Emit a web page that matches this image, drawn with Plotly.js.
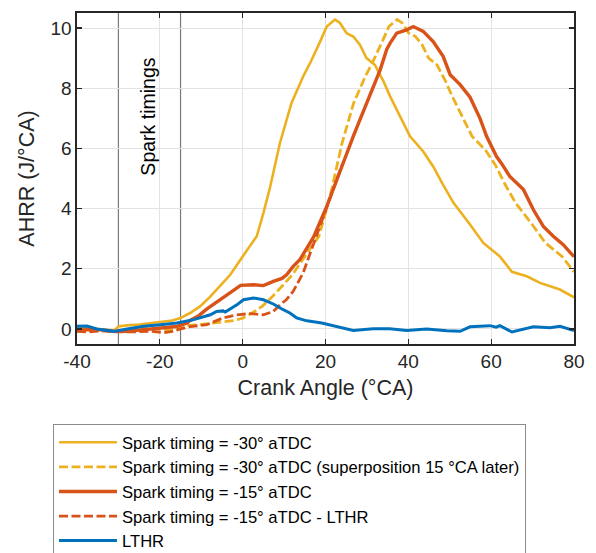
<!DOCTYPE html>
<html>
<head>
<meta charset="utf-8">
<script src="https://cdn.plot.ly/plotly-3.0.1.min.js"></script>
<style>html,body{margin:0;padding:0;background:#fff;}</style>
</head>
<body>
<div id="chart" style="width:596px;height:553px;"></div>
<script>
// Spark timing = -30° aTDC
const y30X = [-40,-37,-34,-31,-30,-28,-25,-22,-20,-17,-15,-12.7,-10.3,-8,-5.5,-3,0,3.4,5,6.6,9,11.8,14.6,16.3,18.7,20.3,22.3,23.5,25.1,26.7,28.3,29.9,31.9,34,35.6,38,40.4,43.6,46,48.4,50.9,54.9,58.1,62.1,65,68.6,71.8,76.6,80];
const y30Y = [0.06,0.03,0,-0.05,0.08,0.12,0.15,0.2,0.22,0.28,0.36,0.53,0.75,1.05,1.42,1.8,2.41,3.08,3.85,4.7,6.18,7.51,8.39,8.84,9.55,10.05,10.28,10.17,9.83,9.72,9.45,9.0,8.78,8.23,7.73,7.06,6.4,5.9,5.4,4.79,4.19,3.47,2.86,2.41,1.9,1.75,1.53,1.31,1.05];
// Spark timing = -30° aTDC (superposition 15 °CA later)
const y30sX = [-25,-22,-19,-16,-15,-13,-10,-7,-5,-2,0,2.3,4.7,7,9.5,12,15,18.4,20,21.6,24,26.8,29.6,31.3,33.7,35.3,37.3,38.5,40.1,41.7,43.3,44.9,46.9,49,50.6,53,55.4,58.6,61,63.4,65.9,69.9,73.1,77.1,80];
const y30sY = [0.06,0.03,0,-0.05,0.08,0.12,0.15,0.2,0.22,0.28,0.36,0.53,0.75,1.05,1.42,1.8,2.41,3.08,3.85,4.7,6.18,7.51,8.39,8.84,9.55,10.05,10.28,10.17,9.83,9.72,9.45,9.0,8.78,8.23,7.73,7.06,6.4,5.95,5.45,4.79,4.19,3.47,2.86,2.41,1.9];
// Spark timing = -15° aTDC
const y15X = [-40,-37,-34,-31,-28,-25,-22,-19,-16,-13.4,-12.7,-10.5,-8.7,-5.5,-3.1,-0.5,2.6,5,7.4,9.5,10.6,12.2,13.8,15.5,17.1,20.3,22.7,25.1,26.7,28.3,29.9,31.5,33.2,34.8,35.6,37.2,39.6,41.2,43.6,46,48.4,50.1,52.5,54.9,57.3,58.9,61.3,62.5,64.5,67.8,70.2,72.6,75,77.4,80];
const y15Y = [-0.05,-0.02,-0.03,-0.08,-0.08,-0.04,0,0.03,0.08,0.2,0.28,0.45,0.66,0.97,1.2,1.45,1.47,1.44,1.58,1.68,1.8,2.08,2.3,2.7,3.05,4.07,4.96,5.85,6.4,6.95,7.51,8.06,8.61,9.3,9.5,9.83,9.94,10.05,9.89,9.55,9.06,8.45,8.12,7.7,7.0,6.4,5.73,5.5,5.07,4.63,3.96,3.41,3.08,2.8,2.4];
// Spark timing = -15° aTDC - LTHR
const y15lX = [-40,-37,-34,-31,-28,-25,-22,-19,-17,-15,-12.7,-8.7,-6,-4.7,-1.5,1.8,5,7.4,9,10.6,12.2,14.6,16,18.7,21.9,24];
const y15lY = [-0.08,-0.1,-0.06,-0.1,-0.1,-0.08,-0.08,-0.12,-0.08,0,0.08,0.14,0.28,0.37,0.47,0.51,0.47,0.58,0.8,0.98,1.25,1.86,2.4,3.45,4.65,5.45];
// LTHR
const lthrX = [-40,-37.6,-35.2,-33,-31.1,-27.9,-23.9,-19.9,-15.9,-11.8,-7.8,-6.3,-4.7,-4.2,-1.4,0.2,2.6,5,7.4,9.8,11.4,13,15.5,19.1,22.7,26.7,31.5,35.5,39.6,44.4,49.3,52.5,54.9,59.7,61.2,62.1,65,70.2,74.2,76.6,80];
const lthrY = [0.09,0.1,0,-0.03,-0.08,0,0.09,0.14,0.2,0.31,0.47,0.58,0.6,0.56,0.8,0.97,1.03,0.97,0.83,0.64,0.53,0.37,0.27,0.2,0.07,-0.05,0.01,0.01,-0.05,0,-0.06,-0.08,0.07,0.11,0.06,0.11,-0.1,0.07,0.04,0.09,-0.05];

const sparkTimings = [-30, -15];
const xTicks = [-40,-20,0,20,40,60,80];
const xTickLabels = ['-40','-20','0','20','40','60','80'];
const yTicks = [0,2,4,6,8,10];
const yTickLabels = ['0','2','4','6','8','10'];

const FONT = 'Liberation Sans, Arial, Helvetica, sans-serif';
const YEL = '#EDB120', ORA = '#D95319', BLU = '#0072BD';

const traces = [
  {x:y30X, y:y30Y, name:'Spark timing = -30° aTDC', mode:'lines', line:{color:YEL, width:2.6}},
  {x:y30sX, y:y30sY, name:'Spark timing = -30° aTDC (superposition 15 °CA later)', mode:'lines', line:{color:YEL, width:2.8, dash:'9px,3.5px'}},
  {x:y15X, y:y15Y, name:'Spark timing = -15° aTDC', mode:'lines', line:{color:ORA, width:3.4}},
  {x:y15lX, y:y15lY, name:'Spark timing = -15° aTDC - LTHR', mode:'lines', line:{color:ORA, width:2.8, dash:'9px,3.5px'}},
  {x:lthrX, y:lthrY, name:'LTHR', mode:'lines', line:{color:BLU, width:3}}
];

const shapes = sparkTimings.map(v => ({type:'line', xref:'x', yref:'paper', x0:v, x1:v, y0:0, y1:1, line:{color:'#7a7a7a', width:1.2}, layer:'below'}));

const axisCommon = {
  ticks:'inside', ticklen:5, tickwidth:1.2, tickcolor:'#262626',
  mirror:'allticks', showline:true, linecolor:'#262626', linewidth:1.6,
  showgrid:true, gridcolor:'#e3e3e3', gridwidth:1, zeroline:false,
  tickfont:{family:FONT, size:19, color:'#262626'}
};

const layout = {
  width:596, height:553,
  margin:{l:77, r:22, t:13, b:209, autoexpand:false},
  paper_bgcolor:'#fff', plot_bgcolor:'#fff',
  font:{family:FONT, color:'#262626'},
  showlegend:true,
  legend:{x:-0.0483, xanchor:'left', y:-0.2417, yanchor:'top', xref:'paper', yref:'paper',
    bgcolor:'#fff', bordercolor:'#8c8c8c', borderwidth:1,
    font:{family:FONT, size:16.6, color:'#000'}, itemwidth:58, traceorder:'normal'},
  xaxis:Object.assign({}, axisCommon, {range:[-40,80], tickvals:xTicks, ticktext:xTickLabels,
    title:{text:'Crank Angle (°CA)', font:{family:FONT, size:21.5, color:'#262626'}, standoff:8}}),
  yaxis:Object.assign({}, axisCommon, {range:[-0.5,10.5], tickvals:yTicks, ticktext:yTickLabels,
    title:{text:'AHRR (J/°CA)', font:{family:FONT, size:21.5, color:'#262626'}, standoff:10}}),
  shapes:shapes,
  annotations:[{x:-22.9, y:7.05, xref:'x', yref:'y', text:'Spark timings', textangle:-90, showarrow:false,
    font:{family:FONT, size:19.5, color:'#000'}}]
};

Plotly.newPlot('chart', traces, layout, {displayModeBar:false, staticPlot:true});
</script>
</body>
</html>
